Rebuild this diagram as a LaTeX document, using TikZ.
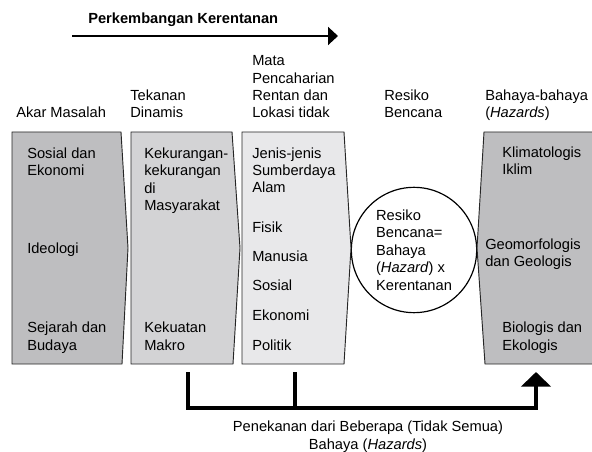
\documentclass[tikz,border=0pt]{standalone}
\usepackage{fontspec}
\setmainfont{Liberation Sans}
\usetikzlibrary{arrows.meta}

\definecolor{rootgray}{RGB}{190,190,192}
\definecolor{pressgray}{RGB}{211,211,213}
\definecolor{unsafegray}{RGB}{232,232,234}

\begin{document}
\begin{tikzpicture}[
  x=0.75pt,y=-0.75pt,
  font=\fontsize{11}{13.1}\selectfont,
  txt/.style={anchor=base west, align=left, inner sep=0pt},
  chevron/.style={draw=black!85, line width=0.7pt, line join=miter},
  risk/.style={circle, draw=black, line width=0.9pt, fill=white,
               minimum size=94pt, inner sep=0pt, align=left},
  trend/.style={-{Triangle[length=7.5pt,width=13.5pt]}, line width=1.5pt},
  press/.style={line width=3pt, draw=black},
  pressarr/.style={-{Triangle[length=11pt,width=22pt]}, line width=3pt, draw=black}
]
\useasboundingbox (0,0) rectangle (592,452);

% progression of vulnerability (base = last line of each text)
\coordinate (trendstart) at (72,36);
\coordinate (trendend) at (338,36);
\draw[trend] (trendstart) -- (trendend);
\node[txt, font=\fontsize{11}{13.1}\selectfont\bfseries] (trendtitle) at (88,24) {Perkembangan Kerentanan};

% column headings
\node[txt] (hakar) at (16,118) {Akar Masalah};
\node[txt] (htekanan) at (130,118) {Tekanan\\Dinamis};
\node[txt] (hmata) at (252,118) {Mata\\Pencaharian\\Rentan dan\\Lokasi tidak};
\node[txt] (hresiko) at (384,118) {Resiko\\Bencana};
\node[txt] (hbahaya) at (485,118) {Bahaya-bahaya\\(\textit{Hazards})};

% risk circle
\node[risk] (risiko) at (414,250) {Resiko\\Bencana=\\Bahaya\\(\textit{Hazard}) x\\Kerentanan};

% chevron boxes
\filldraw[chevron, fill=rootgray] (12,132) -- (121,132) -- (128,248) -- (122,364) -- (12,364) -- cycle;
\filldraw[chevron, fill=pressgray] (131,132) -- (232,132) -- (240,248) -- (233,364) -- (131,364) -- cycle;
\filldraw[chevron, fill=unsafegray] (242,132) -- (344,132) -- (351,248) -- (344,364) -- (242,364) -- cycle;
\fill[rootgray] (592,132) -- (484,132) -- (477,248) -- (485,364) -- (592,364) -- cycle;
\draw[chevron] (592,132) -- (484,132) -- (477,248) -- (485,364) -- (592,364);

% root causes
\node[txt] (sosek) at (27,175.5) {Sosial dan\\Ekonomi};
\node[txt] (ideologi) at (27,253) {Ideologi};
\node[txt] (sejarah) at (27,350) {Sejarah dan\\Budaya};

% dynamic pressures
\node[txt] (kurang) at (144,210.5) {Kekurangan-\\kekurangan\\di\\Masyarakat};
\node[txt] (makro) at (144,350) {Kekuatan\\Makro};

% unsafe conditions
\node[txt] (sda) at (252,193) {Jenis-jenis\\Sumberdaya\\Alam};
\node[txt] (fisik) at (252,233) {Fisik};
\node[txt] (manusia) at (252,262) {Manusia};
\node[txt] (sosial) at (252,291) {Sosial};
\node[txt] (ekonomi) at (252,320) {Ekonomi};
\node[txt] (politik) at (252,350) {Politik};

% hazards
\node[txt] (iklim) at (502,174.5) {Klimatologis\\Iklim};
\node[txt] (geo) at (485,267) {Geomorfologis\\dan Geologis};
\node[txt] (bio) at (502,350) {Biologis dan\\Ekologis};

% triggering links
\coordinate (tekananfoot) at (188,372);
\coordinate (matafoot) at (295,372);
\coordinate (bahayafoot) at (536,372);
\coordinate (junction) at (295,408);
\draw[press] (tekananfoot) |- (junction);
\draw[press] (matafoot) -- (junction);
\draw[pressarr] (junction) -| (bahayafoot);
\node[anchor=base, align=center, inner sep=0pt] (pemicu) at (368,449)
  {Penekanan dari Beberapa (Tidak Semua)\\Bahaya (\textit{Hazards})};

\end{tikzpicture}
\end{document}
